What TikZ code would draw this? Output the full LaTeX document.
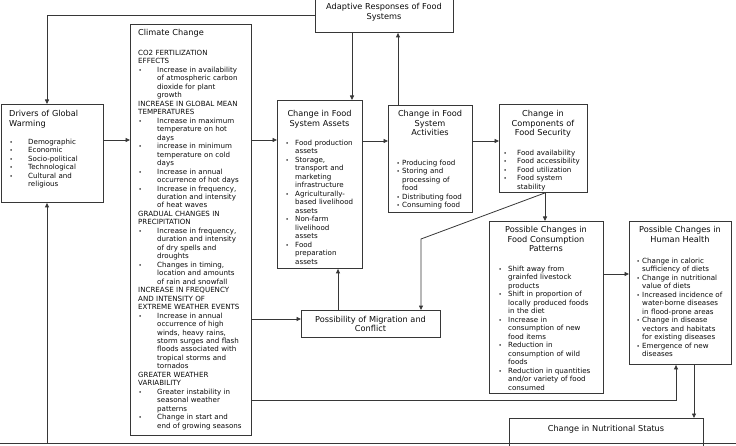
\documentclass[tikz,border=0pt]{standalone}
\usepackage{fontspec}
\setmainfont{DejaVu Sans}
\usetikzlibrary{arrows.meta}
\definecolor{lc}{RGB}{55,55,55}
\definecolor{tc}{RGB}{10,10,10}
\newcommand\bodyfont{\fontsize{7.1}{8.47}\selectfont}
\newcommand\ttlfont{\fontsize{8.2}{9.4}\selectfont}
\newcommand\bul{{\fontsize{5.5}{5.5}\selectfont\textbullet}}
\newcommand\bitem[3]{\noindent\hangindent=#2\hangafter=1\makebox[#2][l]{\hspace{#1}\bul}#3\par}
\newcommand\hd[1]{\noindent #1\par}
\begin{document}
\begin{tikzpicture}[x=1pt,y=-1pt]
\tikzset{
 box/.style={draw=lc, line width=0.9pt, inner sep=0pt, anchor=north west},
 txt/.style={inner sep=0pt, anchor=base west, text width=#1, font=\bodyfont, text=tc},
 ttl/.style={inner sep=0pt, anchor=base, text width=#1, align=center, font=\ttlfont, text=tc},
 ttll/.style={inner sep=0pt, anchor=base west, text width=#1, align=left, font=\ttlfont, text=tc},
 arr/.style={draw=lc, line width=0.8pt, -{Triangle[length=4.5pt,width=4pt]}},
 ln/.style={draw=lc, line width=0.8pt},
}
\useasboundingbox (0,0) rectangle (736,446);
\clip (0,0) rectangle (736,446);

% boxes
\node[box, minimum width=102pt, minimum height=98pt] (drv) at (1,104) {};
\node[box, minimum width=121pt, minimum height=411pt] (cc) at (130,24) {};
\node[box, minimum width=138pt, minimum height=36pt] (adp) at (315,-4) {};
\node[box, minimum width=85pt, minimum height=168pt] (ast) at (277,100) {};
\node[box, minimum width=84pt, minimum height=107pt] (act) at (388,105) {};
\node[box, minimum width=88pt, minimum height=88pt] (fs) at (499,104) {};
\node[box, minimum width=114pt, minimum height=172pt] (fc) at (489,221) {};
\node[box, minimum width=102pt, minimum height=143pt] (hh) at (629,221) {};
\node[box, minimum width=139pt, minimum height=27pt] (mig) at (301,310) {};
\node[box, minimum width=194pt, minimum height=45pt] (nut) at (509,418) {};

% titles
\node[ttll=95pt] (drvT) at (9,117) {Drivers of Global\\Warming};
\node[ttll=110pt] (ccT) at (138,36) {Climate Change};
\node[ttl=136pt] (adpT) at (384,10) {Adaptive Responses of Food\\Systems};
\node[ttl=84pt] (astT) at (319.5,117) {Change in Food\\System Assets};
\node[ttl=84pt] (actT) at (430,117) {Change in Food\\System\\Activities};
\node[ttl=88pt] (fsT) at (543,117) {Change in\\Components of\\Food Security};
\node[ttl=112pt] (fcT) at (546,233) {Possible Changes in\\Food Consumption\\Patterns};
\node[ttl=102pt] (hhT) at (680,233) {Possible Changes in\\Human Health};
\node[ttl=138pt] (migT) at (370.5,322) {Possibility of Migration and\\Conflict};
\node[ttl=190pt] (nutT) at (606,431) {Change in Nutritional Status};

% body texts
\node[txt=120pt] (drvB) at (9.5,144.5) {%
\bitem{0pt}{18.5pt}{Demographic}%
\bitem{0pt}{18.5pt}{Economic}%
\bitem{0pt}{18.5pt}{Socio-political}%
\bitem{0pt}{18.5pt}{Technological}%
\bitem{0pt}{18.5pt}{Cultural and\newline religious}};

\node[txt=150pt] (ccB) at (138,55.5) {%
\hd{CO2 FERTILIZATION\newline EFFECTS}%
\bitem{0.5pt}{19pt}{Increase in availability\newline of atmospheric carbon\newline dioxide for plant\newline growth}%
\hd{INCREASE IN GLOBAL MEAN\newline TEMPERATURES}%
\bitem{0.5pt}{19pt}{Increase in maximum\newline temperature on hot\newline days}%
\bitem{0.5pt}{19pt}{increase in minimum\newline temperature on cold\newline days}%
\bitem{0.5pt}{19pt}{Increase in annual\newline occurrence of hot days}%
\bitem{0.5pt}{19pt}{Increase in frequency,\newline duration and intensity\newline of heat waves}%
\hd{GRADUAL CHANGES IN\newline PRECIPITATION}%
\bitem{0.5pt}{19pt}{Increase in frequency,\newline duration and intensity\newline of dry spells and\newline droughts}%
\bitem{0.5pt}{19pt}{Changes in timing,\newline location and amounts\newline of rain and snowfall}%
\hd{INCREASE IN FREQUENCY\newline AND INTENSITY OF\newline EXTREME WEATHER EVENTS}%
\bitem{0.5pt}{19pt}{Increase in annual\newline occurrence of high\newline winds, heavy rains,\newline storm surges and flash\newline floods associated with\newline tropical storms and\newline tornados}%
\hd{GREATER WEATHER\newline VARIABILITY}%
\bitem{0.5pt}{19pt}{Greater instability in\newline seasonal weather\newline patterns}%
\bitem{0.5pt}{19pt}{Change in start and\newline end of growing seasons}};

\node[txt=120pt] (astB) at (285.5,145.5) {%
\bitem{0pt}{9.5pt}{Food production\newline assets}%
\bitem{0pt}{9.5pt}{Storage,\newline transport and\newline marketing\newline infrastructure}%
\bitem{0pt}{9.5pt}{Agriculturally-\newline based livelihood\newline assets}%
\bitem{0pt}{9.5pt}{Non-farm\newline livelihood\newline assets}%
\bitem{0pt}{9.5pt}{Food\newline preparation\newline assets}};

\node[txt=120pt] (actB) at (396.5,165.5) {%
\bitem{0pt}{5.5pt}{Producing food}%
\bitem{0pt}{5.5pt}{Storing and\newline processing of\newline food}%
\bitem{0pt}{5.5pt}{Distributing food}%
\bitem{0pt}{5.5pt}{Consuming food}};

\node[txt=120pt] (fsB) at (503.5,155.5) {%
\bitem{0pt}{13.5pt}{Food availability}%
\bitem{0pt}{13.5pt}{Food accessibility}%
\bitem{0pt}{13.5pt}{Food utilization}%
\bitem{0pt}{13.5pt}{Food system\newline stability}};

\node[txt=140pt] (fcB) at (498.5,271.5) {%
\bitem{0pt}{9.5pt}{Shift away from\newline grainfed livestock\newline products}%
\bitem{0pt}{9.5pt}{Shift in proportion of\newline locally produced foods\newline in the diet}%
\bitem{0pt}{9.5pt}{Increase in\newline consumption of new\newline food items}%
\bitem{0pt}{9.5pt}{Reduction in\newline consumption of wild\newline foods}%
\bitem{0pt}{9.5pt}{Reduction in quantities\newline and/or variety of food\newline consumed}};

\node[txt=140pt] (hhB) at (636.5,263.5) {%
\bitem{0pt}{5.5pt}{Change in caloric\newline sufficiency of diets}%
\bitem{0pt}{5.5pt}{Change in nutritional\newline value of diets}%
\bitem{0pt}{5.5pt}{Increased incidence of\newline water-borne diseases\newline in flood-prone areas}%
\bitem{0pt}{5.5pt}{Change in disease\newline vectors and habitats\newline for existing diseases}%
\bitem{0pt}{5.5pt}{Emergence of new\newline diseases}};

% helper coordinates
\coordinate (tl) at (47,15);
\coordinate (bl) at (47,443);
\coordinate (bl0) at (0,443);
\coordinate (br0) at (736,443);
\coordinate (r1) at (0,140);
\coordinate (r2) at (0,141);
\coordinate (r3) at (0,319);
\coordinate (r4) at (0,274);
\coordinate (c1) at (352,0);
\coordinate (c2) at (398,0);
\coordinate (c3) at (338,0);
\coordinate (c4) at (545,0);
\coordinate (c5) at (694,0);
\coordinate (bend) at (421,239);
\coordinate (hb) at (676,400);

% connectors
\draw[arr] (adp.west |- tl) -- (tl) -- (tl |- drv.north);
\draw[arr] (bl) -- (bl |- drv.south);
\draw[ln] (bl0) -- (br0);
\draw[arr] (drv.east |- r1) -- (cc.west |- r1);
\draw[arr] (cc.east |- r1) -- (ast.west |- r1);
\draw[arr] (ast.east |- r2) -- (act.west |- r2);
\draw[arr] (act.east |- r2) -- (fs.west |- r2);
\draw[arr] (adp.south -| c1) -- (ast.north -| c1);
\draw[arr] (act.north -| c2) -- (adp.south -| c2);
\draw[arr] (cc.east |- r3) -- (mig.west |- r3);
\draw[arr] (mig.north -| c3) -- (ast.south -| c3);
\draw[arr] (fs.south -| c4) -- (bend) -- (bend |- mig.north);
\draw[arr] (fs.south -| c4) -- (fc.north -| c4);
\draw[arr] (fc.east |- r4) -- (hh.west |- r4);
\draw[arr] (cc.east |- hb) -- (hb) -- (hb |- hh.south);
\draw[arr] (hh.south -| c5) -- (nut.north -| c5);
\end{tikzpicture}
\end{document}
